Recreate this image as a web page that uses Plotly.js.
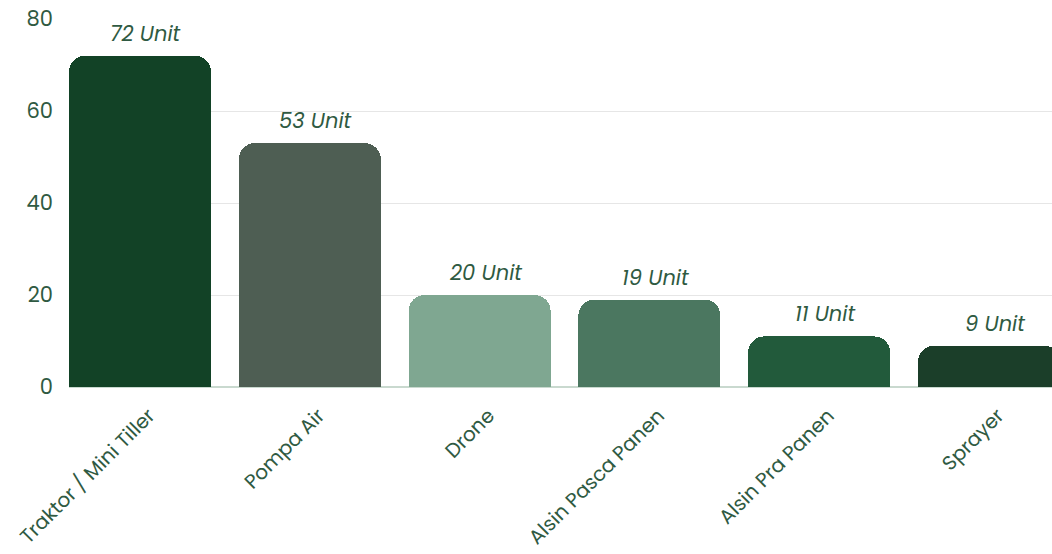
<!DOCTYPE html>
<html>
<head>
<meta charset="utf-8">
<script src="https://cdn.plot.ly/plotly-3.0.1.min.js"></script>
<style>html,body{margin:0;padding:0;background:#fff;}#chart{width:1052px;height:554px;}</style>
</head>
<body>
<div id="chart"></div>
<script>
const categories = ["Traktor / Mini Tiller", "Pompa Air", "Drone", "Alsin Pasca Panen", "Alsin Pra Panen", "Sprayer"];
const units = [72, 53, 20, 19, 11, 9];
const barColors = ["#124226", "#4e5e53", "#7fa791", "#4b7760", "#225a3b", "#1b3e29"];
const yTicks = [0, 20, 40, 60, 80];

const textColor = "#2f5a42";
const fontFamily = "Poppins, 'Open Sans', sans-serif";

const trace = {
  type: "bar",
  x: categories,
  y: units,
  width: 0.836,
  marker: { color: barColors, cornerradius: 16 },
  hoverinfo: "x+y"
};

const annotations = categories.map((c, i) => ({
  x: c,
  y: units[i],
  xref: "x",
  yref: "y",
  text: units[i] + " Unit",
  showarrow: false,
  yanchor: "bottom",
  yshift: 6,
  xshift: 6,
  font: { family: fontFamily, size: 21, color: textColor, style: "italic" }
}));

const layout = {
  width: 1052,
  height: 554,
  margin: { l: 69, r: 0, t: 19, b: 167 },
  paper_bgcolor: "#ffffff",
  plot_bgcolor: "#ffffff",
  showlegend: false,
  bargap: 0,
  font: { family: fontFamily, color: textColor },
  annotations: annotations,
  xaxis: {
    type: "category",
    range: [-0.418, 5.371],
    tickangle: -45,
    tickfont: { family: fontFamily, size: 20, color: textColor },
    ticklabelstandoff: 12,
    ticklabelshift: 9,
    showgrid: false,
    showline: false,
    zeroline: false,
    ticks: ""
  },
  yaxis: {
    range: [0, 80],
    tickvals: yTicks,
    ticktext: yTicks.map(String),
    tickfont: { family: fontFamily, size: 21, color: textColor },
    ticklabelstandoff: 15,
    showgrid: true,
    gridcolor: "#e6e6e6",
    gridwidth: 1,
    zeroline: true,
    zerolinecolor: "#c9d9cf",
    zerolinewidth: 1.5,
    showline: false,
    ticks: ""
  }
};

Plotly.newPlot("chart", [trace], layout, { displayModeBar: false, staticPlot: true });
</script>
</body>
</html>
